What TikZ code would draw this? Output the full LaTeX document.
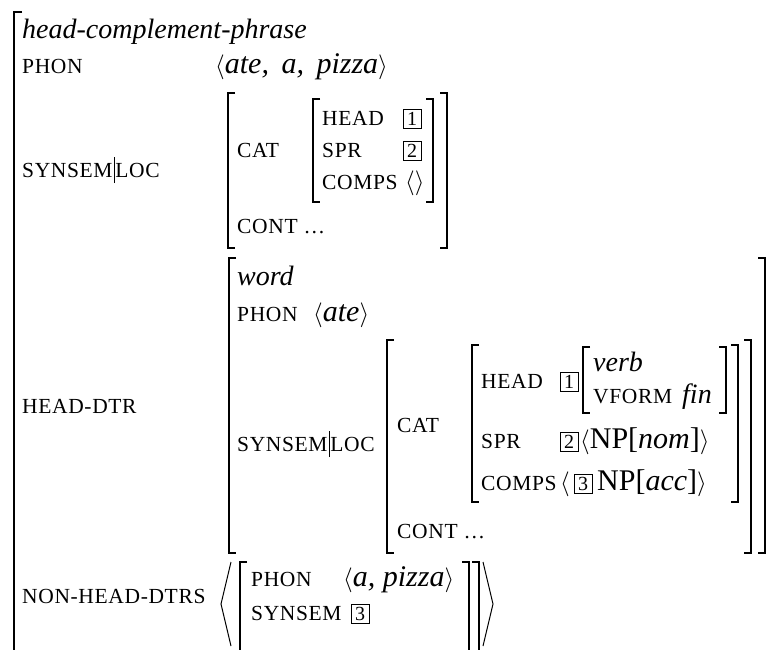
\documentclass[tikz,border=0pt]{standalone}
\usepackage{fontspec}
\setmainfont{Liberation Serif}
\newfontfamily\scfont[LetterSpace=3]{Liberation Serif}
\newcommand\avmbar{\kern1pt\rule[-6pt]{0.7pt}{26pt}\kern1pt}
\newcommand\lang{{\fontsize{33}{33}\selectfont$\langle$}}
\newcommand\rang{{\fontsize{33}{33}\selectfont$\rangle$}}
\usetikzlibrary{positioning}

\begin{document}
\begin{tikzpicture}[x=1pt,y=-1pt,font=\fontsize{28}{34}\selectfont]
\tikzstyle{attr}=[inner sep=0,anchor=base west,font=\scfont\fontsize{21.5}{24}\selectfont]
\tikzstyle{val}=[inner sep=0,anchor=base west,font=\fontsize{30}{34}\selectfont]
\tikzstyle{type}=[inner sep=0,anchor=base west,font=\fontsize{28}{34}\selectfont\itshape]
\tikzstyle{tag}=[draw,line width=0.7pt,inner sep=0,minimum width=18,minimum height=19,font=\fontsize{20}{20}\selectfont]
\tikzstyle{brak}=[line width=1.1pt]
\useasboundingbox (0,0) rectangle (770,649);
\draw[brak] (22,12) -- (14,12) -- (14,660);
% mother
\node[type] (hcp) at (22,38) {head-complement-phrase};
\node[attr] (phon) at (22,73) {PHON};
\node[val] (phonv) at (215,73) {\lang\textit{ate,\hspace{5pt} a,\hspace{5pt} pizza}\rang};
\node[attr] (sl) at (22,177) {SYNSEM\avmbar LOC};
\node[attr] (cat) at (237,157) {CAT};
\node[attr] (head) at (322,125) {HEAD};
\node[tag] (t1) at (412,119) {1};
\node[attr] (spr) at (322,157) {SPR};
\node[tag] (t2) at (412,151) {2};
\node[attr] (comps) at (322,189) {COMPS};
\node[val] (compsv) at (405,189) {$\langle\rangle$};
\node[attr] (cont) at (237,233) {CONT …};
% head daughter
\node[attr] (hd) at (22,413) {HEAD-DTR};
\node[type] (word) at (237,285) {word};
\node[attr] (hdphon) at (237,321) {PHON};
\node[val] (hdphonv) at (313,321) {\lang\textit{ate}\rang};
\node[attr] (hdsl) at (237,451) {SYNSEM\avmbar LOC};
\node[attr] (hdcat) at (397,432) {CAT};
\node[attr] (hdhead) at (481,388) {HEAD};
\node[tag] (hdt1) at (569,382) {1};
\node[type] (verb) at (593,371) {verb};
\node[attr] (vform) at (593,403) {VFORM};
\node[type] (fin) at (682,403) {fin};
\node[attr] (hdspr) at (481,448) {SPR};
\node[tag] (hdt2) at (569,442) {2};
\node[val] (sprv) at (580,448) {\lang NP[\textit{nom}]\rang};
\node[attr] (hdcomps) at (481,490) {COMPS};
\node[val] (compsl) at (560,490) {\lang};
\node[tag] (hdt3) at (583,484) {3};
\node[val] (compsv2) at (597,490) {NP[\textit{acc}]\rang};
\node[attr] (hdcont) at (397,538) {CONT …};
% non-head daughters
\node[attr] (nhd) at (22,603) {NON-HEAD-DTRS};
\node[attr] (nhphon) at (251,586) {PHON};
\node[val] (nhphonv) at (343,586) {\lang\textit{a, pizza}\rang};
\node[attr] (nhss) at (251,620) {SYNSEM};
\node[tag] (nht3) at (360,614) {3};
\foreach \x/\t/\b in {228/93/248,313/99/202,229/258/553,387/340/553,472/345/502,583/347/413,240/562/660}
  \draw[brak] (\x+7,\t) -- (\x,\t) -- (\x,\b) -- (\x+7,\b);
\foreach \x/\t/\b in {447/93/248,433/99/202,765/258/553,751/340/553,738/345/502,726/347/413,469/562/660,479/562/660}
  \draw[brak] (\x-7,\t) -- (\x,\t) -- (\x,\b) -- (\x-7,\b);
\draw[line width=1pt] (231,562) -- (221,604) -- (231,646);
\draw[line width=1pt] (483,562) -- (493,604) -- (483,646);
\end{tikzpicture}
\end{document}
